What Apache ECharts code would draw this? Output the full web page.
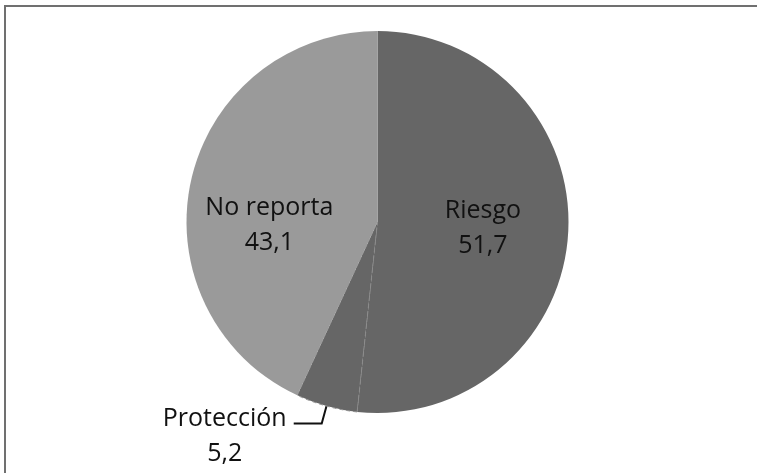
<!DOCTYPE html>
<html>
<head>
<meta charset="utf-8">
<style>
html,body{margin:0;padding:0;background:#fff;}
#chart{width:757px;height:473px;}
</style>
<script src="https://cdn.jsdelivr.net/npm/echarts@6/dist/echarts.min.js"></script>
</head>
<body>
<div id="chart"></div>
<script>
const categories = ['Riesgo', 'Protección', 'No reporta'];
const values = [51.7, 5.2, 43.1];
const valueLabels = ['51,7', '5,2', '43,1'];

const colors = ['#666666', '#666666', '#9a9a9a'];
const labelCfg = [
  { position: 'inside', offset: [7, 1] },
  { position: 'outside' },
  { position: 'inside', offset: [-12, 25] }
];

const data = categories.map((name, i) => {
  const item = {
    name: name,
    value: values[i],
    itemStyle: { color: colors[i] },
    label: Object.assign({}, labelCfg[i])
  };
  if (i === 1) {
    item.itemStyle.borderColor = '#8c8c8c';
    item.itemStyle.borderWidth = 1;
    item.itemStyle.borderType = [4, 3];
    item.label.formatter = '{a|' + name + '}\n{a|' + valueLabels[i] + '}';
    item.label.padding = [26, 0, 0, 0];
    item.label.rich = { a: { width: 128, align: 'center', fontSize: 25, lineHeight: 35, fontFamily: 'Open Sans', color: '#111111' } };
    item.labelLine = { show: true, length: 18, length2: 28, lineStyle: { color: '#111111', width: 2 } };
  } else {
    item.label.formatter = name + '\n' + valueLabels[i];
    item.labelLine = { show: false };
  }
  return item;
});

const chart = echarts.init(document.getElementById('chart'), null, { renderer: 'canvas' });
chart.setOption({
  animation: false,
  backgroundColor: '#ffffff',
  graphic: [{
    type: 'rect',
    shape: { x: 5, y: 6, width: 900, height: 900 },
    style: { fill: 'none', stroke: '#707070', lineWidth: 2 },
    silent: true
  }],
  series: [{
    type: 'pie',
    center: [377.5, 222],
    radius: 191,
    startAngle: 90,
    clockwise: true,
    avoidLabelOverlap: false,
    label: {
      fontFamily: 'Open Sans',
      fontSize: 25,
      lineHeight: 35,
      color: '#111111',
      distanceToLabelLine: 5
    },
    emphasis: { disabled: true },
    data: data
  }]
});
</script>
</body>
</html>
